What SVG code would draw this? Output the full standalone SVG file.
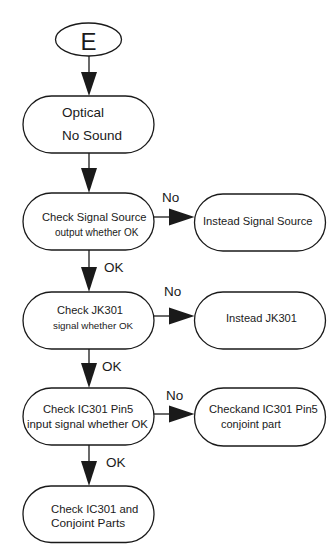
<svg xmlns="http://www.w3.org/2000/svg" width="328" height="544" viewBox="0 0 328 544">
<style>
.n{fill:#fff;stroke:#1a1a1a;stroke-width:1.3}
.l{stroke:#1a1a1a;stroke-width:1.3;fill:none}
.h{fill:#1a1a1a;stroke:none}
text{font-family:"Liberation Sans",Arial,sans-serif;fill:#1a1a1a}
.lb{font-size:13.5px}
</style>
<rect width="328" height="544" fill="#fff"/>
<g id="connectors">
<line class="l" x1="89" y1="56" x2="89" y2="73"/>
<polygon class="h" points="81,72 97,72 89,96"/>
<line class="l" x1="89" y1="153" x2="89" y2="169"/>
<polygon class="h" points="81,168 97,168 89,193"/>
<line class="l" x1="89" y1="250" x2="89" y2="268"/>
<polygon class="h" points="81,267 97,267 89,292"/>
<line class="l" x1="89" y1="349" x2="89" y2="364"/>
<polygon class="h" points="81,363 97,363 89,388"/>
<line class="l" x1="89" y1="445" x2="89" y2="462"/>
<polygon class="h" points="81,461 97,461 89,486"/>
<line class="l" x1="154" y1="217" x2="170" y2="217"/>
<polygon class="h" points="169,208.5 169,225.5 194.5,217"/>
<line class="l" x1="154" y1="316" x2="170" y2="316"/>
<polygon class="h" points="169,307.5 169,324.5 194.5,316"/>
<line class="l" x1="154" y1="414" x2="170" y2="414"/>
<polygon class="h" points="169,405.5 169,422.5 194.5,414"/>
<text class="lb" x="162" y="202">No</text>
<text class="lb" x="164" y="296">No</text>
<text class="lb" x="166" y="400">No</text>
<text class="lb" x="104" y="272">OK</text>
<text class="lb" x="102" y="371">OK</text>
<text class="lb" x="106" y="467">OK</text>
</g>
<g id="nodeE">
<ellipse class="n" cx="88.5" cy="39.5" rx="33" ry="16.5"/>
<text x="88.5" y="50" font-size="24" text-anchor="middle">E</text>
</g>
<g id="nodeOptical">
<rect class="n" x="23" y="96" width="131" height="57" rx="28.5"/>
<text x="62" y="117" font-size="13.5">Optical</text>
<text x="62" y="140" font-size="13.5">No Sound</text>
</g>
<g id="nodeCheckSignal">
<rect class="n" x="23" y="193" width="131" height="57" rx="28.5"/>
<text x="42" y="221" font-size="11.2">Check Signal Source</text>
<text x="55" y="236" font-size="10">output whether OK</text>
</g>
<g id="nodeInsteadSignal">
<rect class="n" x="194.5" y="194" width="131" height="57" rx="28.5"/>
<text x="203" y="225" font-size="11.2">Instead Signal Source</text>
</g>
<g id="nodeCheckJK">
<rect class="n" x="23" y="292" width="131" height="57" rx="28.5"/>
<text x="57" y="314" font-size="11.1">Check JK301</text>
<text x="53" y="329" font-size="9.8">signal whether OK</text>
</g>
<g id="nodeInsteadJK">
<rect class="n" x="194.5" y="292" width="131" height="57" rx="28.5"/>
<text x="226" y="322" font-size="11.1">Instead JK301</text>
</g>
<g id="nodeCheckIC">
<rect class="n" x="23" y="388" width="131" height="57" rx="28.5"/>
<text x="43" y="413" font-size="11.2">Check IC301 Pin5</text>
<text x="27" y="428" font-size="11.4">input signal whether OK</text>
</g>
<g id="nodeCheckandIC">
<rect class="n" x="194.5" y="388" width="131" height="58" rx="29"/>
<text x="209" y="413" font-size="11.2">Checkand IC301 Pin5</text>
<text x="221" y="428" font-size="11">conjoint part</text>
</g>
<g id="nodeFinal">
<rect class="n" x="23" y="486" width="131" height="56.5" rx="28"/>
<text x="51" y="513" font-size="11.3">Check IC301 and</text>
<text x="51" y="527" font-size="11.8">Conjoint Parts</text>
</g>
</svg>
